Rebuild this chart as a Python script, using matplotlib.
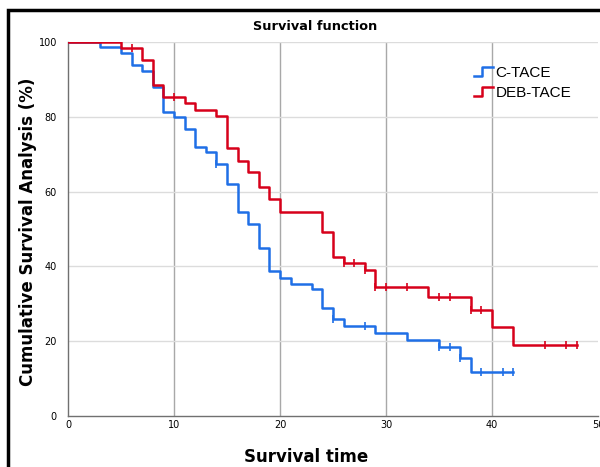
import numpy as np
import matplotlib
matplotlib.use('Agg')
import matplotlib.pyplot as plt
from matplotlib.lines import Line2D
from matplotlib.legend_handler import HandlerBase
from matplotlib.patches import Rectangle

# C-TACE: step times and survival level (%) after each step
ctace_t = [0, 3, 5, 6, 7, 8, 9, 10, 11, 12, 13, 14, 15, 16, 17, 18, 19, 20, 21,
           23, 24, 25, 26, 29, 32, 35, 37, 38]
ctace_s = [100, 98.6, 97.0, 93.9, 92.3, 87.9, 81.4, 80.0, 76.7, 72.0, 70.5, 67.4,
           62.0, 54.6, 51.3, 44.8, 38.7, 36.8, 35.4, 33.9, 28.8, 25.9, 24.1, 22.1,
           20.4, 18.4, 15.4, 11.8]
ctace_end = 42
ctace_cens = [14, 25, 28, 35, 36, 37, 39, 41, 42]

# DEB-TACE
deb_t = [0, 5, 7, 8, 9, 11, 12, 14, 15, 16, 17, 18, 19, 20, 24, 25, 26, 28, 29,
         34, 38, 40, 42]
deb_s = [100, 98.4, 95.2, 88.5, 85.2, 83.6, 81.8, 80.2, 71.6, 68.3, 65.2, 61.3,
         58.1, 54.5, 49.3, 42.6, 41.0, 39.0, 34.6, 31.9, 28.3, 23.7, 19.0]
deb_end = 48
deb_cens = [6, 10, 26, 27, 28, 29, 30, 32, 35, 36, 38, 39, 45, 47, 48]

blue = '#1f6fe6'
red = '#d7001a'


class HandlerStep(HandlerBase):
    def create_artists(self, legend, orig_handle, xdescent, ydescent,
                       width, height, fontsize, trans):
        x0 = -xdescent
        y0 = -ydescent
        xs = [x0, x0 + width * 0.45, x0 + width * 0.45, x0 + width]
        ys = [y0 + height * 0.1, y0 + height * 0.1, y0 + height * 0.9, y0 + height * 0.9]
        ln = Line2D(xs, ys, color=orig_handle.get_color(),
                    lw=orig_handle.get_linewidth(), transform=trans)
        return [ln]


fig = plt.figure(figsize=(6, 4.67), dpi=100)
ax = fig.add_axes([68 / 600, 51 / 467, 530 / 600, 374 / 467])

lines = []
for t, s, end, cens, col, lab in [(ctace_t, ctace_s, ctace_end, ctace_cens, blue, 'C-TACE'),
                                  (deb_t, deb_s, deb_end, deb_cens, red, 'DEB-TACE')]:
    tt = np.array(t + [end])
    ss = np.array(s + [s[-1]])
    ln, = ax.step(tt, ss, where='post', color=col, lw=1.8, label=lab, zorder=3)
    lines.append(ln)
    idx = np.searchsorted(np.array(t), np.array(cens), side='right') - 1
    ax.plot(cens, np.array(s)[idx], ls='none', marker='|', ms=6, mew=1.2,
            color=col, zorder=4)

ax.set_xlim(0, 50)
ax.set_ylim(0, 100)
ax.set_xticks([0, 10, 20, 30, 40, 50])
ax.set_yticks([0, 20, 40, 60, 80, 100])
for x in [10, 20, 30, 40]:
    ax.axvline(x, color='#a8a8a8', lw=1.0, zorder=1)
for y in [20, 40, 60, 80, 100]:
    ax.axhline(y, color='#dcdcdc', lw=1.0, zorder=1)

for sp in ['top', 'right']:
    ax.spines[sp].set_visible(False)
for sp in ['left', 'bottom']:
    ax.spines[sp].set_color('#707070')
    ax.spines[sp].set_linewidth(1.0)
ax.tick_params(length=0, labelsize=7, pad=3)
ax.tick_params(axis='y', pad=8)
for lbl in ax.get_xticklabels() + ax.get_yticklabels():
    lbl.set_family(['Liberation Sans Narrow', 'DejaVu Sans'])

fig.text(315 / 600, 1 - 26 / 467, 'Survival function', ha='center', va='center',
         fontsize=9.3, fontweight='bold')
fig.text(306 / 600, 1 - 457 / 467, 'Survival time', ha='center', va='center',
         fontsize=12, fontweight='bold')
fig.text(28 / 600, 1 - 232 / 467, 'Cumulative Survival Analysis (%)', ha='center',
         va='center', rotation=90, fontsize=12, fontweight='bold')

leg = ax.legend(handles=lines, handler_map={Line2D: HandlerStep()},
                loc='upper left', bbox_to_anchor=(0.745, 0.965), frameon=False,
                fontsize=11, handlelength=1.3, handletextpad=0.15,
                labelspacing=0.4, borderpad=0.2)
for txt in leg.get_texts():
    txt.set_family(['Liberation Sans', 'DejaVu Sans'])

fig.patches.append(Rectangle((8 / 600, -0.05), 1.1, 0.05 + 1 - 10 / 467,
                             transform=fig.transFigure, fill=False,
                             edgecolor='black', lw=2.5, clip_on=False))

fig.savefig('out.png', dpi=100)
